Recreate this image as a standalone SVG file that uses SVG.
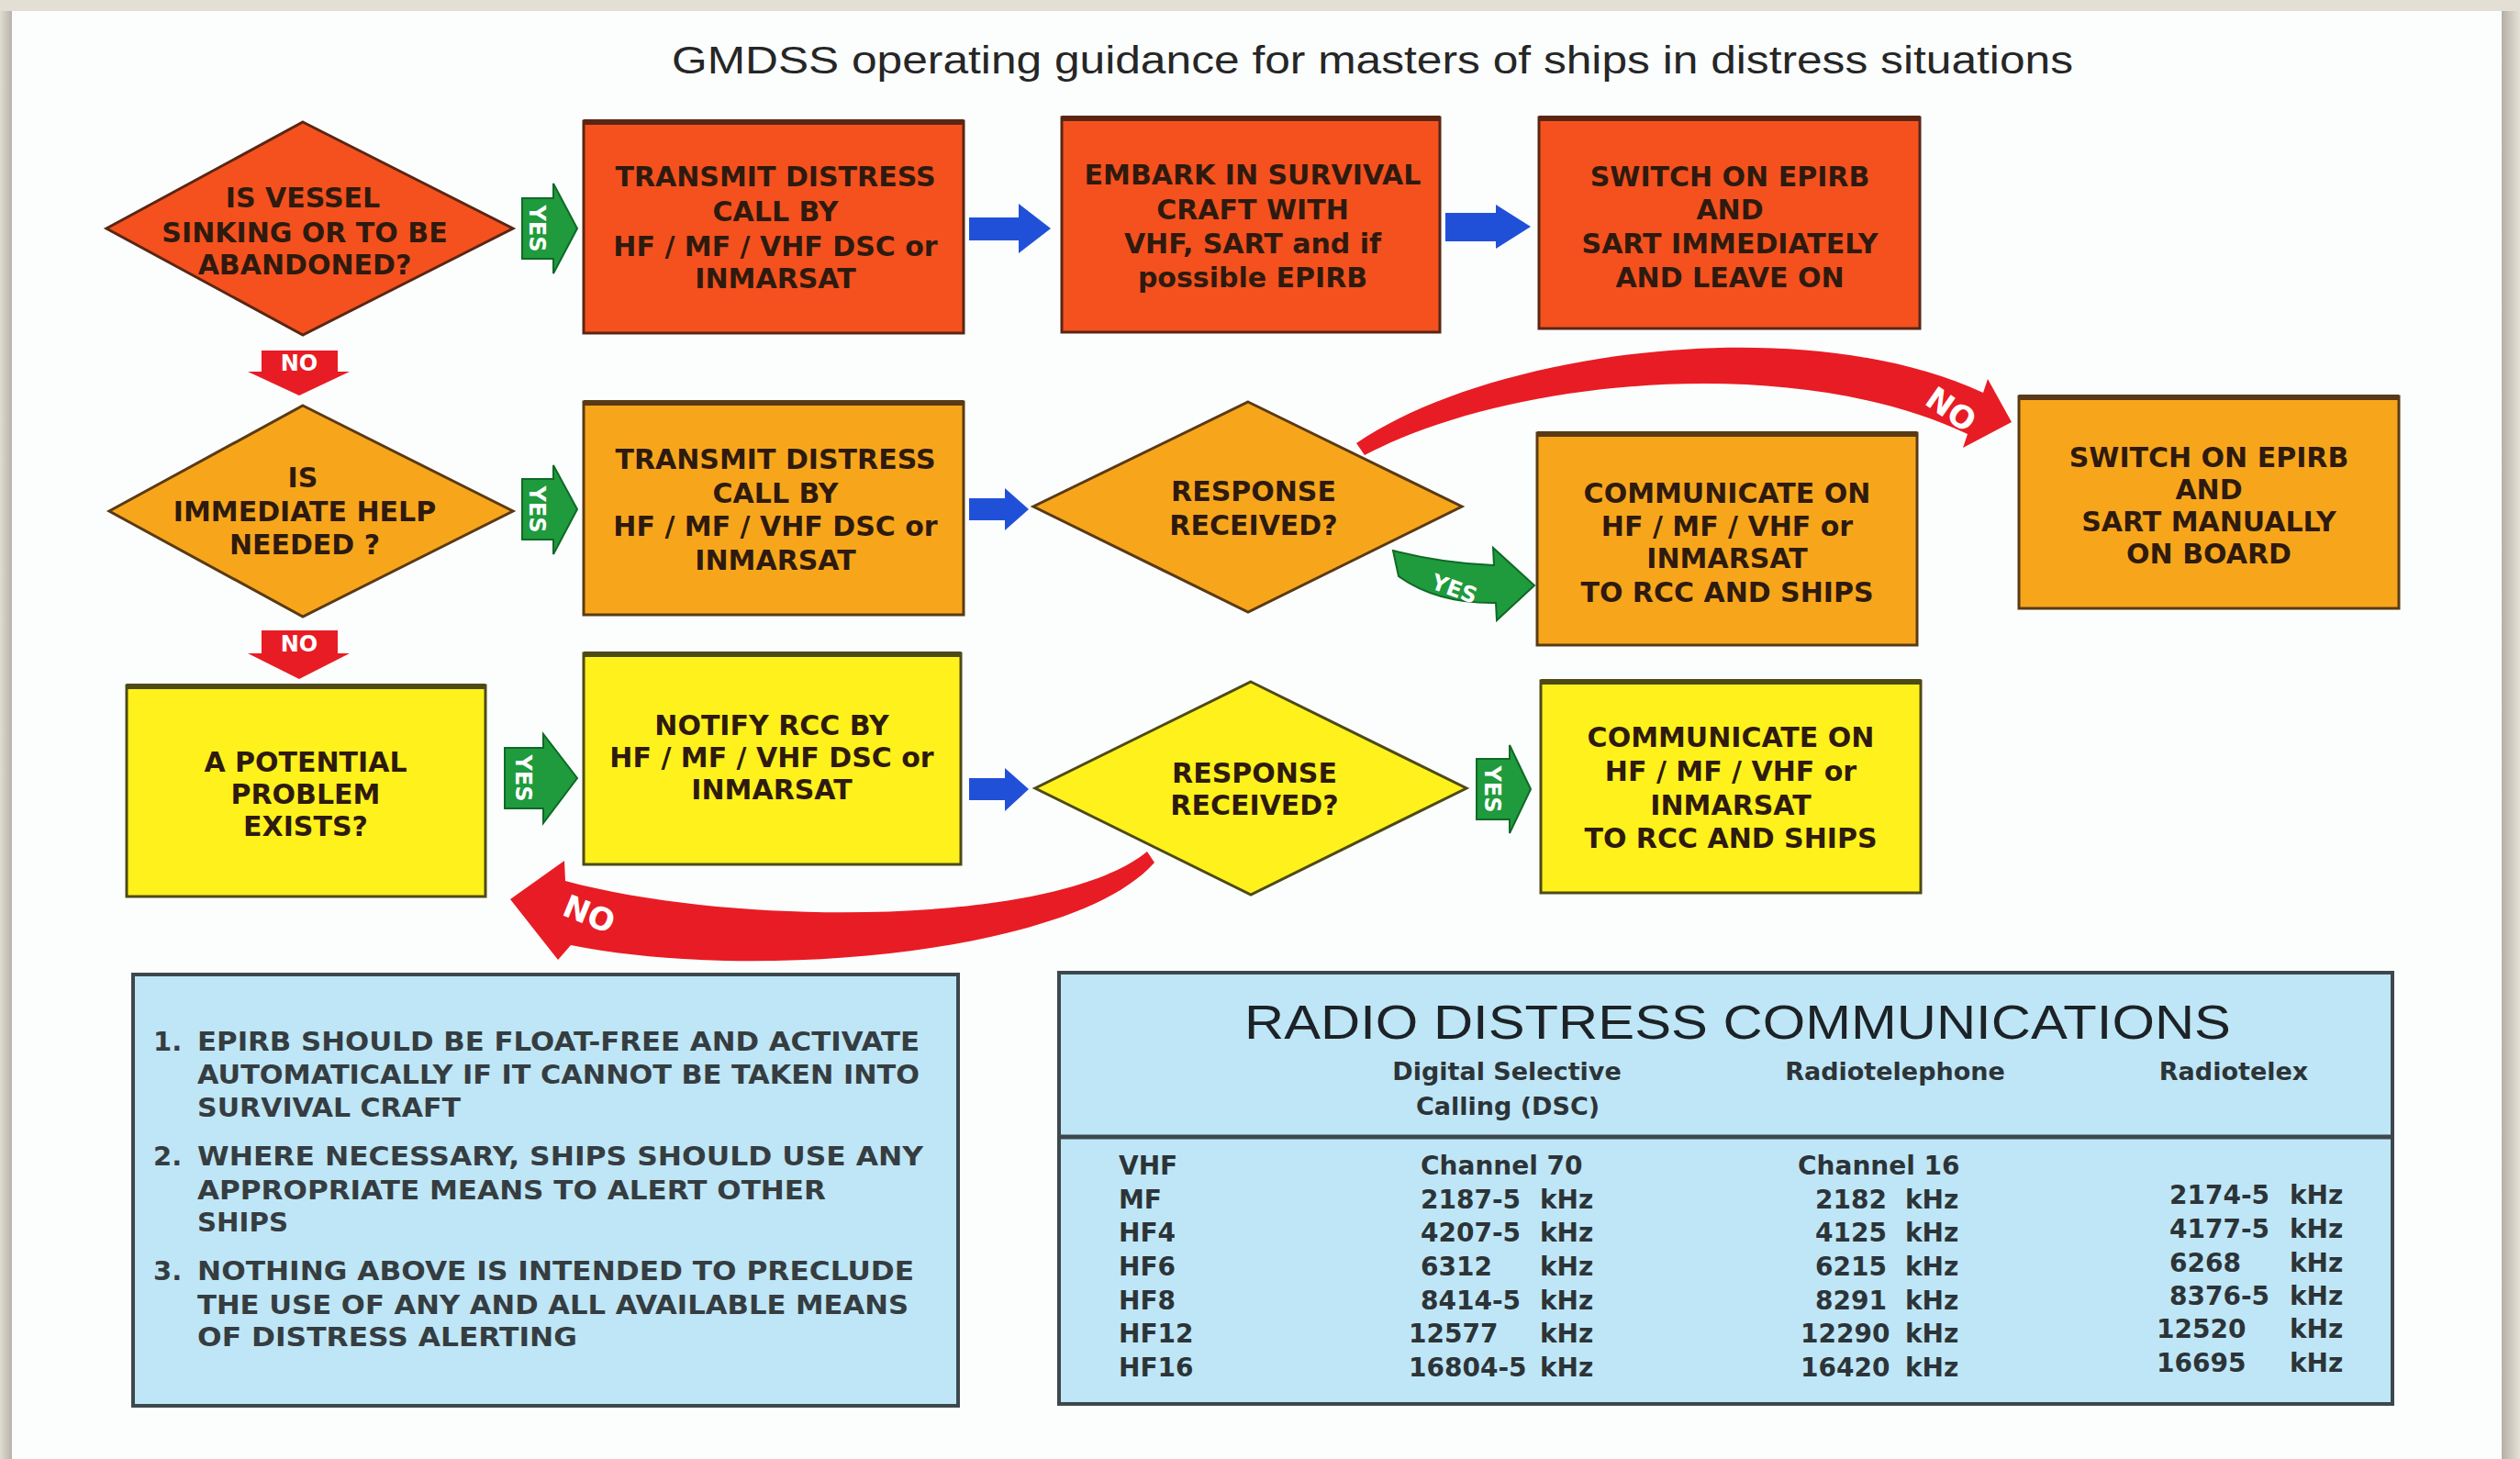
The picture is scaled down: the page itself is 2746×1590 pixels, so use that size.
<svg xmlns="http://www.w3.org/2000/svg" width="2746" height="1590" viewBox="0 0 2746 1590">
<defs>
<linearGradient id="rs" x1="0" y1="0" x2="1" y2="0"><stop offset="0" stop-color="#b4afa5"/><stop offset="1" stop-color="#e6e2d8"/></linearGradient>
<linearGradient id="ls" x1="0" y1="0" x2="1" y2="0"><stop offset="0" stop-color="#e0dcd2"/><stop offset="1" stop-color="#b8b3a8"/></linearGradient>
</defs>
<style>
.red{fill:#f4511e;stroke:#5a2614;stroke-width:3}
.org{fill:#f7a61c;stroke:#5a3a14;stroke-width:3}
.yel{fill:#fff21c;stroke:#4e4a16;stroke-width:3}
.top{stroke-width:6;stroke-linecap:butt}
.t{font-family:"DejaVu Sans",sans-serif;font-weight:bold;font-size:30px;fill:#2e1a0e;text-anchor:middle}
.yes{fill:#1f9a3c;stroke:#0e6a26;stroke-width:2}
.no{fill:#e81c24}
.blue{fill:#2150d8}
.lbl{font-family:"DejaVu Sans",sans-serif;font-weight:bold;fill:#ffffff;text-anchor:middle;font-size:24px}
.big{font-size:34px}
.info{fill:#bfe6f6;stroke:#3d484c;stroke-width:4}
.note{font-family:"DejaVu Sans",sans-serif;font-weight:bold;font-size:29px;fill:#353d41}
.tb{font-family:"DejaVu Sans",sans-serif;font-weight:bold;font-size:28px;fill:#2c3438}
.hd{font-family:"DejaVu Sans",sans-serif;font-weight:bold;font-size:27px;fill:#2c3438;text-anchor:middle}
</style>
<rect x="0" y="0" width="2746" height="1590" fill="#e3dfd5"/>
<rect x="0" y="12" width="13" height="1578" fill="url(#ls)"/>
<rect x="2726" y="12" width="20" height="1578" fill="url(#rs)"/>
<rect x="13" y="12" width="2713" height="1578" fill="#fcfefe"/>
<text x="732" y="80" textLength="1527" lengthAdjust="spacingAndGlyphs" font-family="Liberation Sans, Arial, sans-serif" font-size="42" fill="#262626">GMDSS operating guidance for masters of ships in distress situations</text>

<g id="connectors">
<polygon class="yes" points="569,216 603,216 603,200 629,249 603,298 603,282 569,282"/>
<text class="lbl" transform="translate(586,249) rotate(90)" y="9">YES</text>
<polygon class="yes" points="569,522 603,522 603,507 629,555 603,604 603,588 569,588"/>
<text class="lbl" transform="translate(586,555) rotate(90)" y="9">YES</text>
<polygon class="yes" points="550,815 592,815 592,800 629,848 592,897 592,881 550,881"/>
<text class="lbl" transform="translate(571,848) rotate(90)" y="9">YES</text>
<polygon class="yes" points="1609,827 1645,827 1645,812 1668,860 1645,908 1645,893 1609,893"/>
<text class="lbl" transform="translate(1627,860) rotate(90)" y="9">YES</text>
<path class="yes" d="M1518,600 Q1572,614 1628,616 L1627,597 L1672,638 L1631,676 L1630,657 Q1566,658 1524,628 Z"/>
<text class="lbl" transform="translate(1585,641) rotate(20)" y="9">YES</text>

<polygon class="blue" points="1056,237 1110,237 1110,222 1145,249 1110,276 1110,262 1056,262"/>
<polygon class="blue" points="1575,232 1630,232 1630,223 1668,247 1630,271 1630,263 1575,263"/>
<polygon class="blue" points="1056,543 1095,543 1095,532 1121,555 1095,578 1095,567 1056,567"/>
<polygon class="blue" points="1056,848 1095,848 1095,837 1121,860 1095,884 1095,872 1056,872"/>

<polygon class="no" points="285,382 368,382 368,405 381,405 326,431 270,405 285,405"/>
<text class="lbl" x="326" y="404">NO</text>
<polygon class="no" points="285,687 368,687 368,712 381,712 326,740 270,712 285,712"/>
<text class="lbl" x="326" y="710">NO</text>

<path class="no" d="M1478,483 C1620,385 1960,335 2161,428 L2166,413 L2192,460 L2139,488 L2144,473 C1960,385 1650,410 1487,496 Z"/>
<text class="lbl big" transform="translate(2126,446) rotate(35)" y="12">NO</text>
<path class="no" d="M1250,928 C1150,1010 800,1010 616,960 L615,938 L556,980 L608,1046 L622,1030 C820,1070 1170,1040 1258,940 Z"/>
<text class="lbl big" transform="translate(642,996) rotate(22)" y="12">NO</text>
</g>

<g id="n1">
<polygon class="red" points="330,133 559,249 330,365 116,249"/>
<text class="t" x="330" y="226">IS VESSEL</text>
<text class="t" x="332" y="264">SINKING OR TO BE</text>
<text class="t" x="332" y="299">ABANDONED?</text>
</g>
<g id="n2">
<rect class="red" x="636" y="132" width="414" height="231"/>
<line class="red top" x1="636" y1="133" x2="1050" y2="133"/>
<text class="t" x="845" y="203">TRANSMIT DISTRESS</text>
<text class="t" x="845" y="241">CALL BY</text>
<text class="t" x="845" y="279">HF / MF / VHF DSC or</text>
<text class="t" x="845" y="314">INMARSAT</text>
</g>
<g id="n3">
<rect class="red" x="1157" y="128" width="412" height="234"/>
<line class="red top" x1="1157" y1="129" x2="1569" y2="129"/>
<text class="t" x="1365" y="201">EMBARK IN SURVIVAL</text>
<text class="t" x="1365" y="239">CRAFT WITH</text>
<text class="t" x="1365" y="276">VHF, SART and if</text>
<text class="t" x="1365" y="313">possible EPIRB</text>
</g>
<g id="n4">
<rect class="red" x="1677" y="128" width="415" height="230"/>
<line class="red top" x1="1677" y1="129" x2="2092" y2="129"/>
<text class="t" x="1885" y="203">SWITCH ON EPIRB</text>
<text class="t" x="1885" y="239">AND</text>
<text class="t" x="1885" y="276">SART IMMEDIATELY</text>
<text class="t" x="1885" y="313">AND LEAVE ON</text>
</g>
<g id="n5">
<polygon class="org" points="330,442 559,557 330,672 119,557"/>
<text class="t" x="330" y="531">IS</text>
<text class="t" x="332" y="568">IMMEDIATE HELP</text>
<text class="t" x="332" y="604">NEEDED ?</text>
</g>
<g id="n6">
<rect class="org" x="636" y="438" width="414" height="232"/>
<line class="org top" x1="636" y1="439" x2="1050" y2="439"/>
<text class="t" x="845" y="511">TRANSMIT DISTRESS</text>
<text class="t" x="845" y="548">CALL BY</text>
<text class="t" x="845" y="584">HF / MF / VHF DSC or</text>
<text class="t" x="845" y="621">INMARSAT</text>
</g>
<g id="n7">
<polygon class="org" points="1360,438 1593,552 1360,667 1126,552"/>
<text class="t" x="1366" y="546">RESPONSE</text>
<text class="t" x="1366" y="583">RECEIVED?</text>
</g>
<g id="n8">
<rect class="org" x="1675" y="472" width="414" height="231"/>
<line class="org top" x1="1675" y1="473" x2="2089" y2="473"/>
<text class="t" x="1882" y="548">COMMUNICATE ON</text>
<text class="t" x="1882" y="584">HF / MF / VHF or</text>
<text class="t" x="1882" y="619">INMARSAT</text>
<text class="t" x="1882" y="656">TO RCC AND SHIPS</text>
</g>
<g id="n9">
<rect class="org" x="2200" y="432" width="414" height="231"/>
<line class="org top" x1="2200" y1="433" x2="2614" y2="433"/>
<text class="t" x="2407" y="509">SWITCH ON EPIRB</text>
<text class="t" x="2407" y="544">AND</text>
<text class="t" x="2407" y="579">SART MANUALLY</text>
<text class="t" x="2407" y="614">ON BOARD</text>
</g>
<g id="n10">
<rect class="yel" x="138" y="747" width="391" height="230"/>
<line class="yel top" x1="138" y1="748" x2="529" y2="748"/>
<text class="t" x="333" y="841">A POTENTIAL</text>
<text class="t" x="333" y="876">PROBLEM</text>
<text class="t" x="333" y="911">EXISTS?</text>
</g>
<g id="n11">
<rect class="yel" x="636" y="712" width="411" height="230"/>
<line class="yel top" x1="636" y1="713" x2="1047" y2="713"/>
<text class="t" x="841" y="801">NOTIFY RCC BY</text>
<text class="t" x="841" y="836">HF / MF / VHF DSC or</text>
<text class="t" x="841" y="871">INMARSAT</text>
</g>
<g id="n12">
<polygon class="yel" points="1363,743 1598,859 1363,975 1128,859"/>
<text class="t" x="1367" y="853">RESPONSE</text>
<text class="t" x="1367" y="888">RECEIVED?</text>
</g>
<g id="n13">
<rect class="yel" x="1679" y="742" width="414" height="231"/>
<line class="yel top" x1="1679" y1="743" x2="2093" y2="743"/>
<text class="t" x="1886" y="814">COMMUNICATE ON</text>
<text class="t" x="1886" y="851">HF / MF / VHF or</text>
<text class="t" x="1886" y="888">INMARSAT</text>
<text class="t" x="1886" y="924">TO RCC AND SHIPS</text>
</g>

<g id="notes">
<rect class="info" x="145" y="1062" width="899" height="470"/>
<text class="note" x="167" y="1145">1.</text>
<text class="note" x="215" y="1145" textLength="787" lengthAdjust="spacingAndGlyphs">EPIRB SHOULD BE FLOAT-FREE AND ACTIVATE</text>
<text class="note" x="215" y="1181" textLength="787" lengthAdjust="spacingAndGlyphs">AUTOMATICALLY IF IT CANNOT BE TAKEN INTO</text>
<text class="note" x="215" y="1217" textLength="287" lengthAdjust="spacingAndGlyphs">SURVIVAL CRAFT</text>
<text class="note" x="167" y="1270">2.</text>
<text class="note" x="215" y="1270" textLength="791" lengthAdjust="spacingAndGlyphs">WHERE NECESSARY, SHIPS SHOULD USE ANY</text>
<text class="note" x="215" y="1307" textLength="685" lengthAdjust="spacingAndGlyphs">APPROPRIATE MEANS TO ALERT OTHER</text>
<text class="note" x="215" y="1342" textLength="99" lengthAdjust="spacingAndGlyphs">SHIPS</text>
<text class="note" x="167" y="1395">3.</text>
<text class="note" x="215" y="1395" textLength="781" lengthAdjust="spacingAndGlyphs">NOTHING  ABOVE IS INTENDED TO PRECLUDE</text>
<text class="note" x="215" y="1432" textLength="775" lengthAdjust="spacingAndGlyphs">THE USE OF ANY AND ALL AVAILABLE MEANS</text>
<text class="note" x="215" y="1467" textLength="414" lengthAdjust="spacingAndGlyphs">OF DISTRESS ALERTING</text>
</g>

<g id="table">
<rect class="info" x="1154" y="1060" width="1453" height="470"/>
<line x1="1154" y1="1239" x2="2607" y2="1239" stroke="#3d484c" stroke-width="5"/>
<text x="1356" y="1132" textLength="1075" lengthAdjust="spacingAndGlyphs" font-family="Liberation Sans, Arial, sans-serif" font-size="51" fill="#1c2226">RADIO DISTRESS COMMUNICATIONS</text>
<text class="hd" x="1642" y="1177">Digital Selective</text>
<text class="hd" x="1643" y="1215">Calling (DSC)</text>
<text class="hd" x="2065" y="1177">Radiotelephone</text>
<text class="hd" x="2434" y="1177">Radiotelex</text>
<g class="tb">
<text x="1219" y="1280">VHF</text>
<text x="1219" y="1317">MF</text>
<text x="1219" y="1353">HF4</text>
<text x="1219" y="1390">HF6</text>
<text x="1219" y="1427">HF8</text>
<text x="1219" y="1463">HF12</text>
<text x="1219" y="1500">HF16</text>
<text x="1548" y="1280">Channel 70</text>
<text x="1548" y="1317">2187-5</text>
<text x="1548" y="1353">4207-5</text>
<text x="1548" y="1390">6312</text>
<text x="1548" y="1427">8414-5</text>
<text x="1535" y="1463">12577</text>
<text x="1535" y="1500">16804-5</text>
<text x="1678" y="1317">kHz</text>
<text x="1678" y="1353">kHz</text>
<text x="1678" y="1390">kHz</text>
<text x="1678" y="1427">kHz</text>
<text x="1678" y="1463">kHz</text>
<text x="1678" y="1500">kHz</text>
<text x="1959" y="1280">Channel 16</text>
<text x="1978" y="1317">2182</text>
<text x="1978" y="1353">4125</text>
<text x="1978" y="1390">6215</text>
<text x="1978" y="1427">8291</text>
<text x="1962" y="1463">12290</text>
<text x="1962" y="1500">16420</text>
<text x="2076" y="1317">kHz</text>
<text x="2076" y="1353">kHz</text>
<text x="2076" y="1390">kHz</text>
<text x="2076" y="1427">kHz</text>
<text x="2076" y="1463">kHz</text>
<text x="2076" y="1500">kHz</text>
<text x="2364" y="1312">2174-5</text>
<text x="2364" y="1349">4177-5</text>
<text x="2364" y="1386">6268</text>
<text x="2364" y="1422">8376-5</text>
<text x="2350" y="1458">12520</text>
<text x="2350" y="1495">16695</text>
<text x="2495" y="1312">kHz</text>
<text x="2495" y="1349">kHz</text>
<text x="2495" y="1386">kHz</text>
<text x="2495" y="1422">kHz</text>
<text x="2495" y="1458">kHz</text>
<text x="2495" y="1495">kHz</text>
</g>
</g>
</svg>
